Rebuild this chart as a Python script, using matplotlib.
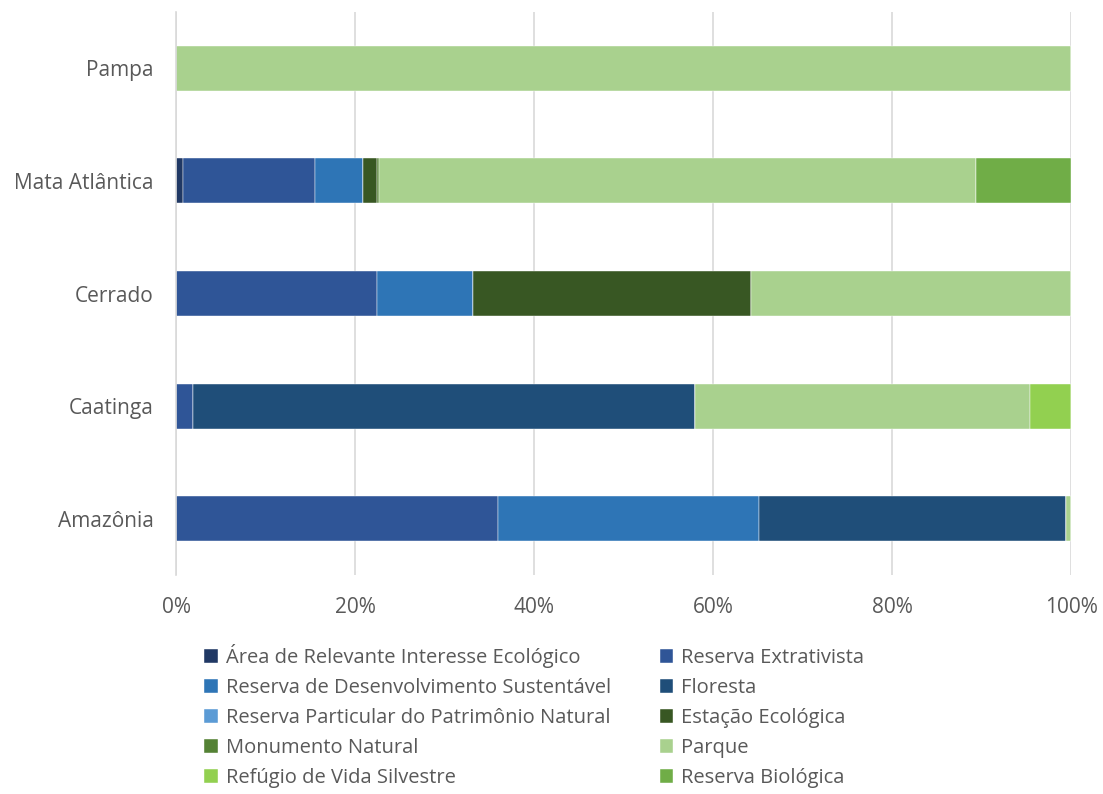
import matplotlib.pyplot as plt
import numpy as np

plt.rcParams['font.family'] = ['Open Sans', 'DejaVu Sans']

# Biomas (de baixo para cima)
biomas = ['Amazônia', 'Caatinga', 'Cerrado', 'Mata Atlântica', 'Pampa']

categorias = [
    'Área de Relevante Interesse Ecológico',
    'Reserva Extrativista',
    'Reserva de Desenvolvimento Sustentável',
    'Floresta',
    'Reserva Particular do Patrimônio Natural',
    'Estação Ecológica',
    'Monumento Natural',
    'Parque',
    'Refúgio de Vida Silvestre',
    'Reserva Biológica',
]

# Percentuais por categoria, na ordem de biomas
arie = [0.0, 0.0, 0.0, 0.8, 0.0]
resex = [36.0, 1.9, 22.5, 14.7, 0.0]
rds = [29.1, 0.0, 10.7, 5.4, 0.0]
floresta = [34.3, 56.1, 0.0, 0.0, 0.0]
rppn = [0.0, 0.0, 0.0, 0.0, 0.0]
esec = [0.0, 0.0, 31.0, 1.6, 0.0]
mona = [0.0, 0.0, 0.0, 0.2, 0.0]
parque = [0.6, 37.4, 35.8, 66.7, 100.0]
rvs = [0.0, 4.6, 0.0, 0.0, 0.0]
rebio = [0.0, 0.0, 0.0, 10.6, 0.0]

series = [arie, resex, rds, floresta, rppn, esec, mona, parque, rvs, rebio]
cores = ['#203864', '#2F5597', '#2E75B6', '#1F4E79', '#5B9BD5',
         '#385723', '#548235', '#A9D18E', '#92D050', '#70AD47']

fig = plt.figure(figsize=(11.03, 7.94), dpi=100)
ax = fig.add_axes([0.1596, 0.2758, 0.8114, 0.709])

y = np.arange(len(biomas))
esquerda = np.zeros(len(biomas))
barras = []
for nome, vals, cor in zip(categorias, series, cores):
    vals = np.array(vals)
    b = ax.barh(y, vals, left=esquerda, height=0.4, color=cor, label=nome,
                edgecolor='white', linewidth=0.3)
    barras.append(b)
    esquerda += vals

ax.set_xlim(0, 100)
ax.set_ylim(-0.5, 4.5)
ax.set_yticks(y)
ax.set_yticklabels(biomas)
ax.set_xticks(np.arange(0, 101, 20))
ax.set_xticklabels([f'{v}%' for v in range(0, 101, 20)])
ax.xaxis.grid(True, color='#D9D9D9', linewidth=1.2)
ax.set_axisbelow(True)
for s in ['top', 'right', 'bottom']:
    ax.spines[s].set_visible(False)
ax.spines['left'].set_color('#D9D9D9')
ax.spines['left'].set_linewidth(1.2)
ax.tick_params(axis='both', length=0, labelsize=15, colors='#595959')
ax.tick_params(axis='y', pad=16)
ax.tick_params(axis='x', pad=16)

# legenda em duas colunas, lida por linhas (como no Excel)
ordem = list(range(0, 10, 2)) + list(range(1, 10, 2))
leg = fig.legend([barras[i] for i in ordem], [categorias[i] for i in ordem],
                 loc='upper left', bbox_to_anchor=(0.178, 0.199), ncol=2,
                 frameon=False, fontsize=14.5, handlelength=0.68, handleheight=0.68,
                 handletextpad=0.4, columnspacing=2.4, labelspacing=0.5,
                 borderaxespad=0)
for t in leg.get_texts():
    t.set_color('#595959')

fig.savefig('out.png', dpi=100)
